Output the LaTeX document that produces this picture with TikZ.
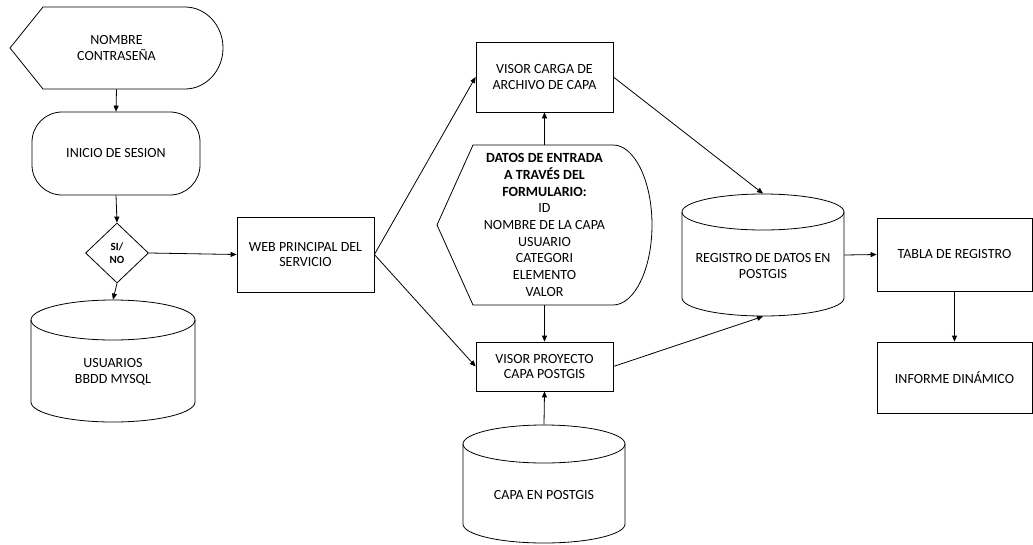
\documentclass[tikz,border=0pt]{standalone}
\usepackage{fontspec}
\setmainfont{Carlito}
\usetikzlibrary{arrows.meta,shapes.geometric}
\tikzset{
  every node/.style={align=center, inner sep=0pt, font=\fontsize{14}{15.5}\selectfont},
  box/.style={draw, rectangle},
  dbarea/.style={rectangle},
}
\begin{document}
\begin{tikzpicture}[x=1pt, y=-1pt, line width=0.8pt]
      \useasboundingbox (0,0) rectangle (1033,544);
      % entrada y acceso
      \node[minimum width=213pt, minimum height=82pt] (nombre) at (116.5,48) {NOMBRE\\CONTRASE\~NA};
      \draw (10,48) -- (43,7) -- (185,7) .. controls (206,7) and (223,25.4) .. (223,48)
        .. controls (223,70.6) and (206,89) .. (185,89) -- (43,89) -- cycle;
      \node[box, rounded corners=30pt, minimum width=168pt, minimum height=83pt] (inicio) at (116,153.5) {INICIO DE SESION};
      \node[draw, diamond, aspect=1.05, minimum width=63pt, minimum height=60pt,
        font=\fontsize{11}{13}\selectfont\bfseries] (sino) at (117,253) {SI/\\NO};
      \node[dbarea, minimum width=164pt, minimum height=122pt] (usuarios) at (113,361) {};
      \draw (113,320) ellipse [x radius=82, y radius=20];
      \draw (31,320) -- (31,402) .. controls (31,413) and (67.7,422) .. (113,422)
        .. controls (158.3,422) and (195,413) .. (195,402) -- (195,320);
      \node (usuarios-t) at (113,372) {USUARIOS\\BBDD MYSQL};
      % servicio
      \node[box, minimum width=137pt, minimum height=75pt] (web) at (305.5,254.5) {WEB PRINCIPAL DEL\\SERVICIO};
      \node[box, minimum width=137pt, minimum height=70pt] (carga) at (544.5,77) {VISOR CARGA DE\\ARCHIVO DE CAPA};
      \node[minimum width=215pt, minimum height=160pt, font=\fontsize{14}{16.7}\selectfont] (datos) at (544.5,225)
        {\textbf{DATOS DE ENTRADA}\\\textbf{A TRAV\'ES DEL}\\\textbf{FORMULARIO:}\\ID\\NOMBRE DE LA CAPA\\USUARIO\\CATEGORI\\ELEMENTO\\VALOR};
      \draw (437,225) -- (473,145) -- (613,145) .. controls (634.5,145) and (652,181) .. (652,225)
        .. controls (652,269) and (634.5,305) .. (613,305) -- (473,305) -- cycle;
      \node[box, minimum width=137pt, minimum height=49pt] (proyecto) at (544.5,366.5) {VISOR PROYECTO\\CAPA POSTGIS};
      \node[dbarea, minimum width=162pt, minimum height=118pt] (capa) at (544,484) {};
      \draw (544,444) ellipse [x radius=81, y radius=19];
      \draw (463,444) -- (463,524) .. controls (463,534.5) and (499.3,543) .. (544,543)
        .. controls (588.7,543) and (625,534.5) .. (625,524) -- (625,444);
      \node (capa-t) at (544,495) {CAPA EN POSTGIS};
      % registro
      \node[dbarea, minimum width=162pt, minimum height=122pt] (registro) at (763,255) {};
      \draw (763,212) ellipse [x radius=81, y radius=18];
      \draw (682,212) -- (682,298) .. controls (682,308) and (718.3,316) .. (763,316)
        .. controls (807.7,316) and (844,308) .. (844,298) -- (844,212);
      \node (registro-t) at (763,266) {REGISTRO DE DATOS EN\\POSTGIS};
      \node[box, minimum width=155pt, minimum height=73pt] (tabla) at (954.5,254.5) {TABLA DE REGISTRO};
      \node[box, minimum width=155pt, minimum height=71pt] (informe) at (954.5,377.5) {INFORME DIN\'AMICO};
      \begin{scope}[-{Triangle[length=6pt,width=5pt]}]
        \draw (nombre.south) to (inicio.north);
        \draw (inicio.south) to (sino.north);
        \draw (sino.south) to (usuarios.north);
        \draw (sino.east) to (web.west);
        \draw (web.east) to (carga.west);
        \draw (web.east) to (proyecto.west);
        \draw (datos.north) to (carga.south);
        \draw (datos.south) to (proyecto.north);
        \draw (capa.north) to (proyecto.south);
        \draw (carga.east) to (registro.north);
        \draw (proyecto.east) to (registro.south);
        \draw (registro.east) to (tabla.west);
        \draw (tabla.south) to (informe.north);
      \end{scope}
    \end{tikzpicture}
\end{document}
